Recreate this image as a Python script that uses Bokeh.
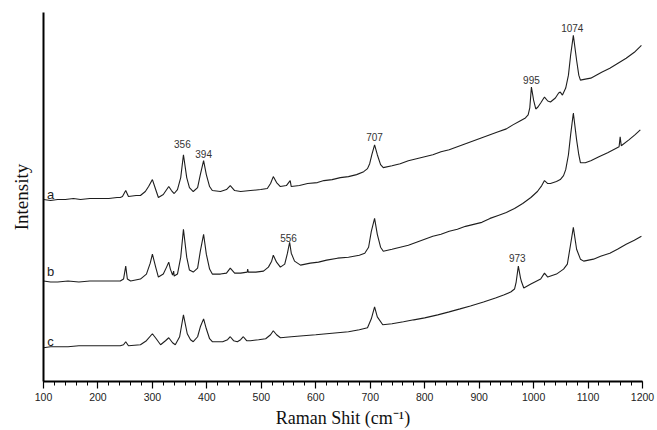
from bokeh.plotting import figure
from bokeh.models import Range1d, FixedTicker, Label
from bokeh.embed import file_html
from bokeh.resources import INLINE

# ---------------- data ----------------
wn_a = [100, 113, 126, 140, 155, 168, 185, 205, 220, 235, 241, 245, 251, 256, 270, 278, 287, 293,
        300, 306, 311, 320, 330, 335, 340, 346, 352, 357, 363, 368, 375, 383, 388, 394, 399, 405,
        410, 425, 436, 443, 451, 462, 480, 499, 511, 517, 522, 528, 535, 546, 553, 555, 570, 585,
        603, 615, 630, 645, 660, 675, 688, 695, 699, 703, 708, 713, 719, 724, 740, 755, 770, 785,
        800, 815, 830, 845, 860, 875, 890, 905, 920, 935, 950, 962, 975, 985, 990, 993, 996, 1000,
        1004, 1008, 1013, 1020, 1026, 1031, 1040, 1046, 1049, 1053, 1059, 1064, 1068, 1073, 1079,
        1083, 1086, 1095, 1105, 1115, 1125, 1140, 1155, 1170, 1185, 1198]
int_a = [183, 182, 183, 183, 184, 183, 184, 184, 184, 185, 185, 186, 192, 186, 187, 187, 191, 196,
         203, 193, 185, 188, 196, 192, 189, 193, 205, 228, 205, 195, 191, 195, 208, 222, 208, 196,
         192, 191, 193, 197, 192, 191, 192, 193, 194, 199, 206, 200, 196, 197, 202, 196, 197, 199,
         200, 202, 203, 205, 206, 208, 211, 214, 219, 228, 238, 228, 218, 215, 217, 219, 222, 224,
         226, 228, 231, 233, 236, 239, 242, 245, 248, 251, 254, 258, 262, 265, 268, 275, 296, 283,
         274, 276, 280, 286, 282, 281, 285, 290, 291, 288, 295, 308, 328, 348, 323,
         308, 303, 304, 305, 308, 311, 315, 320, 325, 331, 338]

wn_b = [100, 113, 126, 145, 165, 185, 205, 225, 241, 247, 251, 254, 260, 278, 289, 296, 300, 306,
        311, 320, 326, 330, 333, 337, 339, 340, 346, 352, 357, 363, 368, 375, 383, 388, 394, 399,
        405, 410, 425, 436, 443, 451, 462, 474, 475, 476, 490, 504, 513, 519, 522, 528, 535, 543,
        548, 552, 555, 561, 572, 590, 605, 620, 640, 660, 680, 690, 697, 702, 708, 713, 719, 724,
        740, 755, 770, 785, 800, 815, 830, 845, 860, 875, 890, 905, 920, 935, 950, 965, 980, 995,
        1007, 1015, 1020, 1026, 1031, 1042, 1049, 1055, 1059, 1064, 1068, 1073, 1079, 1083, 1086,
        1095, 1105, 1120, 1136, 1150, 1157, 1159, 1161, 1175, 1186, 1196]
int_b = [101, 100, 100, 101, 100, 101, 101, 101, 101, 103, 116, 103, 101, 103, 108, 119, 128, 115,
         105, 108, 115, 120, 113, 107, 111, 106, 108, 125, 153, 125, 112, 110, 114, 131, 148, 128,
         113, 108, 108, 109, 114, 109, 109, 110, 113, 110, 110, 111, 115, 121, 127, 120, 115, 118,
         129, 140, 129, 121, 117, 119, 120, 122, 124, 125, 127, 129, 135, 151, 164, 148, 135, 131,
         133, 135, 137, 140, 143, 146, 148, 151, 153, 156, 158, 160, 164, 167, 170, 174, 179, 185,
         191, 197, 202, 199, 199, 201, 203, 207, 213, 228, 248, 270, 243, 228, 220,
         220, 222, 226, 230, 234, 236, 246, 237, 243, 248, 253]

wn_c = [100, 113, 126, 145, 165, 185, 205, 225, 241, 247, 251, 256, 278, 289, 300, 307, 315, 324,
        330, 337, 342, 350, 357, 364, 370, 375, 383, 388, 394, 399, 405, 410, 429, 438, 443, 449,
        456, 462, 467, 473, 480, 495, 508, 517, 522, 528, 535, 555, 577, 600, 620, 640, 660, 680,
        695, 702, 708, 713, 723, 740, 761, 780, 800, 824, 845, 865, 884, 908, 930, 945, 958, 965,
        968, 972, 976, 978, 982, 995, 1013, 1020, 1026, 1042, 1055, 1062, 1068, 1073, 1079, 1086,
        1092, 1110, 1123, 1140, 1154, 1170, 1185, 1198]
int_c = [34, 35, 35, 35, 36, 36, 36, 36, 36, 37, 40, 36, 37, 41, 48, 43, 37, 41,
         44, 39, 37, 45, 67, 48, 42, 40, 45, 55, 63, 53, 43, 40, 40, 42, 45, 41,
         40, 42, 45, 41, 41, 42, 43, 47, 51, 47, 44, 45, 46, 47, 48, 49, 50, 52,
         54, 63, 75, 65, 57, 58, 60, 62, 64, 67, 70, 73, 76, 80, 84, 87, 90, 93,
         100, 116, 104, 100, 94, 98, 103, 109, 105, 108, 113, 118, 138, 155, 133, 123,
         121, 123, 126, 129, 133, 138, 142, 146]

x_ticks = [100, 200, 300, 400, 500, 600, 700, 800, 900, 1000, 1100, 1200]

peak_labels = ["356", "394", "707", "995", "1074", "556", "973"]
curve_names = ["a", "b", "c"]

# ---------------- positions / styles ----------------
peak_label_pos = [(355, 239), (394, 229), (708, 246), (996, 303), (1071, 355), (550, 144), (970, 124)]
curve_name_pos = [(113, 188), (113, 111), (113, 40)]

p = figure(width=657, height=430, output_backend="svg", toolbar_location=None,
           x_range=Range1d(100, 1200), y_range=Range1d(0, 371),
           min_border_left=43, min_border_right=15, min_border_top=12, min_border_bottom=47)
p.outline_line_color = None
p.xgrid.visible = False
p.ygrid.visible = False
p.background_fill_color = "white"
p.border_fill_color = "white"

for xs, ys in [(wn_a, int_a), (wn_b, int_b), (wn_c, int_c)]:
    p.line(xs, ys, line_color="#1e1e1e", line_width=1.1)

# x axis
xa = p.xaxis[0]
xa.ticker = FixedTicker(ticks=x_ticks, minor_ticks=list(range(100, 1201, 20)))
xa.axis_line_width = 2
xa.axis_line_color = "black"
xa.major_tick_in = 0
xa.major_tick_out = 7
xa.minor_tick_in = 0
xa.minor_tick_out = 4
xa.major_tick_line_width = 1.2
xa.minor_tick_line_width = 1
xa.major_label_text_font = "Liberation Sans"
xa.major_label_text_font_size = "10.5px"
xa.major_label_text_color = "#222222"
xa.major_label_standoff = 4
xa.axis_label = "Raman Shit (cm\u207b\u00b9)"
xa.axis_label_text_font = "Liberation Serif"
xa.axis_label_text_font_size = "18px"
xa.axis_label_text_font_style = "normal"
xa.axis_label_text_color = "#111111"
xa.axis_label_standoff = 4

# y axis
ya = p.yaxis[0]
ya.ticker = FixedTicker(ticks=[])
ya.axis_line_width = 2
ya.axis_line_color = "black"
ya.major_tick_out = 0
ya.major_tick_in = 0
ya.minor_tick_out = 0
ya.minor_tick_in = 0
ya.axis_label = "Intensity"
ya.axis_label_text_font = "Liberation Serif"
ya.axis_label_text_font_size = "19px"
ya.axis_label_text_font_style = "normal"
ya.axis_label_text_color = "#111111"
ya.axis_label_standoff = 12

for txt, (x, y) in zip(peak_labels, peak_label_pos):
    p.add_layout(Label(x=x, y=y, text=txt, text_align="center", text_baseline="middle",
                       text_font="Liberation Sans", text_font_size="10px", text_color="#333333"))

for txt, (x, y) in zip(curve_names, curve_name_pos):
    p.add_layout(Label(x=x, y=y, text=txt, text_align="center", text_baseline="middle",
                       text_font="Liberation Sans", text_font_size="13px", text_color="#222222"))

open("out.html", "w").write(file_html(p, INLINE))
